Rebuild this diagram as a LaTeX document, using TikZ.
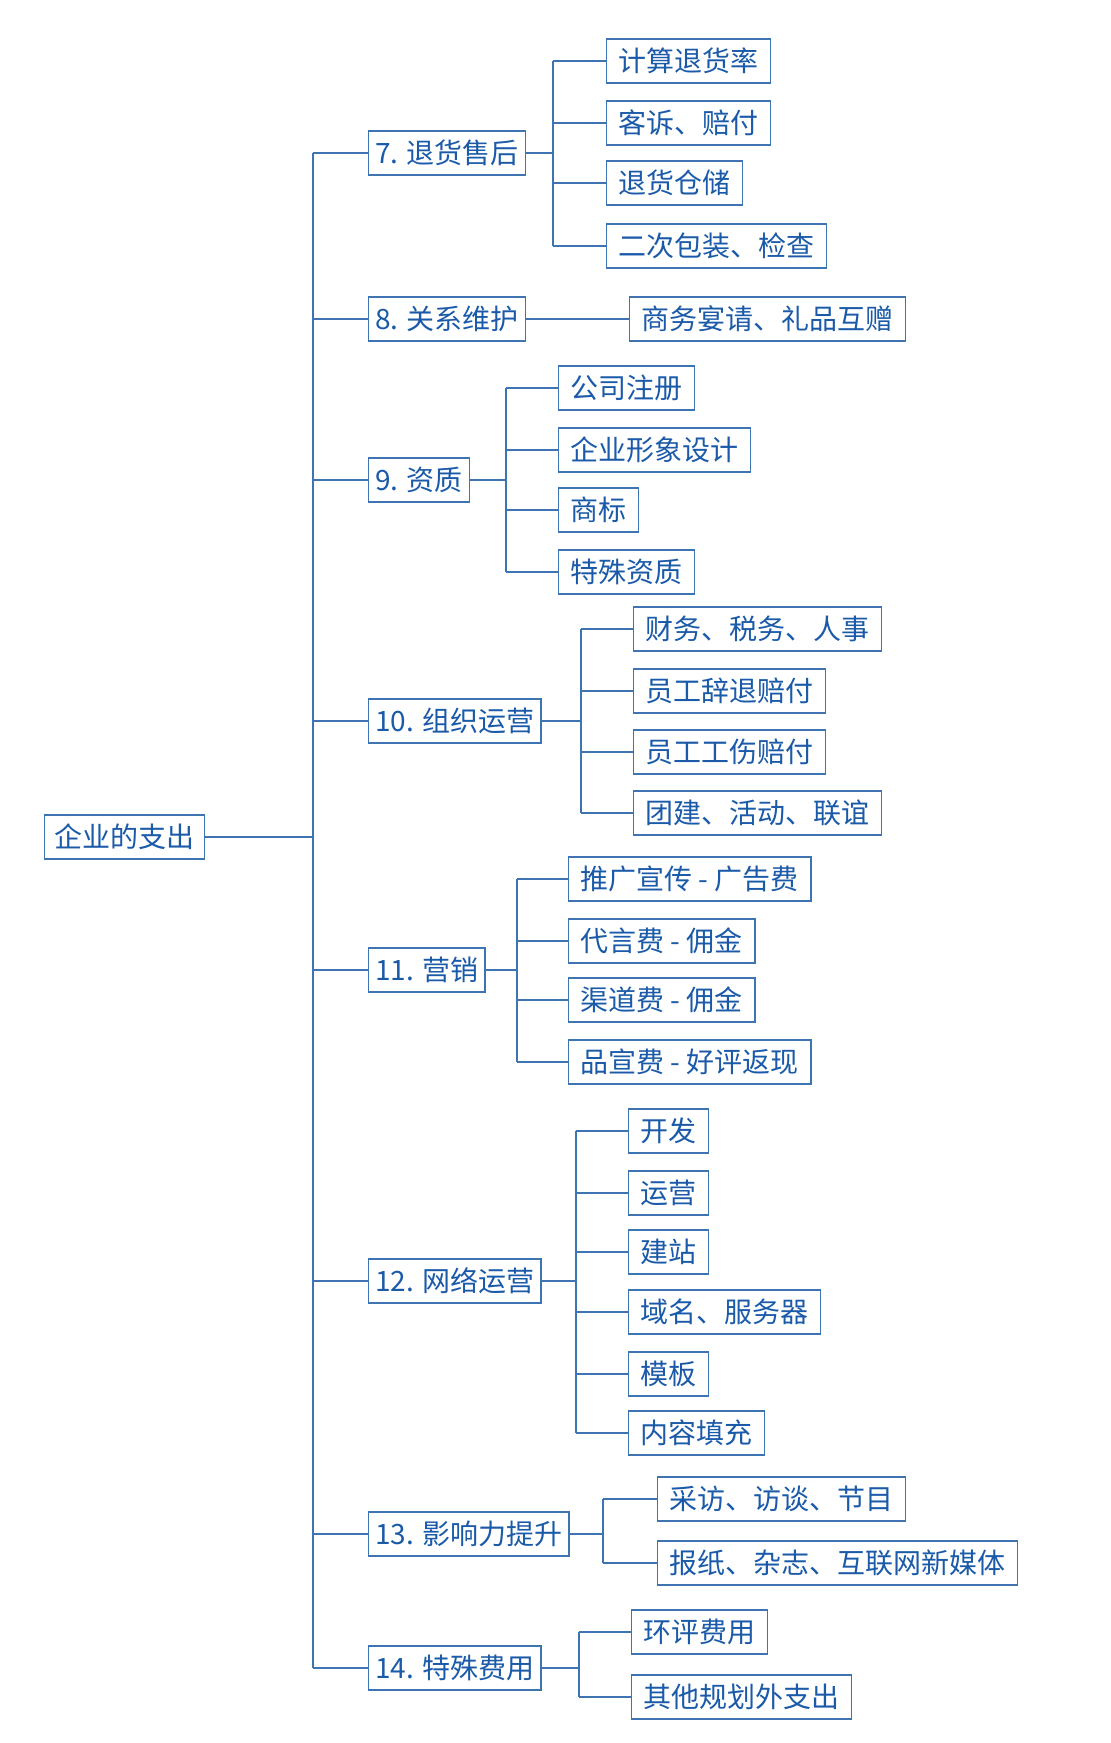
\documentclass[tikz,border=0pt]{standalone}
\usepackage{fontspec}
\setmainfont{Noto Sans CJK SC}
\definecolor{LineBlue}{HTML}{3F74B3}
\definecolor{TextBlue}{HTML}{1A5AA8}

\begin{document}
\begin{tikzpicture}[
  x=0.5pt, y=-0.5pt,
  item/.style={rectangle, draw=LineBlue, line width=0.7pt, anchor=west,
    minimum height=22pt, inner xsep=6pt, inner ysep=0pt,
    font=\fontsize{14}{16}\selectfont, text=TextBlue},
  head/.style={item, inner xsep=3.25pt},
  link/.style={draw=LineBlue, line width=0.7pt}
]
  \useasboundingbox (0,0) rectangle (1110,1743);

  % root and first level
  \node[item, inner xsep=5pt] (root) at (44,837) {企业的支出};
  \node[head] (l7) at (368,153) {7. 退货售后};
  \node[head] (l8) at (368,319) {8. 关系维护};
  \node[head] (l9) at (368,480) {9. 资质};
  \node[head] (l10) at (368,721) {10. 组织运营};
  \node[head] (l11) at (368,970) {11. 营销};
  \node[head] (l12) at (368,1281) {12. 网络运营};
  \node[head] (l13) at (368,1534) {13. 影响力提升};
  \node[head] (l14) at (368,1668) {14. 特殊费用};

  % second level
  \node[item] (c71) at (606,61) {计算退货率};
  \node[item] (c72) at (606,123) {客诉、赔付};
  \node[item] (c73) at (606,183) {退货仓储};
  \node[item] (c74) at (606,246) {二次包装、检查};
  \node[item] (c81) at (629,319) {商务宴请、礼品互赠};
  \node[item] (c91) at (558,388) {公司注册};
  \node[item] (c92) at (558,450) {企业形象设计};
  \node[item] (c93) at (558,510) {商标};
  \node[item] (c94) at (558,572) {特殊资质};
  \node[item] (c101) at (633,629) {财务、税务、人事};
  \node[item] (c102) at (633,691) {员工辞退赔付};
  \node[item] (c103) at (633,752) {员工工伤赔付};
  \node[item] (c104) at (633,813) {团建、活动、联谊};
  \node[item] (c111) at (568,879) {推广宣传 - 广告费};
  \node[item] (c112) at (568,941) {代言费 - 佣金};
  \node[item] (c113) at (568,1000) {渠道费 - 佣金};
  \node[item] (c114) at (568,1062) {品宣费 - 好评返现};
  \node[item] (c121) at (628,1131) {开发};
  \node[item] (c122) at (628,1193) {运营};
  \node[item] (c123) at (628,1252) {建站};
  \node[item] (c124) at (628,1312) {域名、服务器};
  \node[item] (c125) at (628,1374) {模板};
  \node[item] (c126) at (628,1433) {内容填充};
  \node[item] (c131) at (657,1499) {采访、访谈、节目};
  \node[item] (c132) at (657,1563) {报纸、杂志、互联网新媒体};
  \node[item] (c141) at (631,1632) {环评费用};
  \node[item] (c142) at (631,1697) {其他规划外支出};

  % trunk
  \coordinate (trunk) at (313,837);
  \draw[link] (root.east) -- (trunk);
  \draw[link] (trunk |- l7.west) -- (trunk |- l14.west);
  \foreach \n in {l7,l8,l9,l10,l11,l12,l13,l14}
    \draw[link] (trunk |- \n.west) -- (\n.west);

  % forks
  \coordinate (f7) at (553,0);
  \coordinate (f9) at (506,0);
  \coordinate (f10) at (581,0);
  \coordinate (f11) at (517,0);
  \coordinate (f12) at (576,0);
  \coordinate (f13) at (603,0);
  \coordinate (f14) at (579,0);
  \draw[link] (l8.east) -- (c81.west);
  \foreach \p/\f/\a/\b in {l7/f7/c71/c74, l9/f9/c91/c94, l10/f10/c101/c104,
      l11/f11/c111/c114, l12/f12/c121/c126, l13/f13/c131/c132, l14/f14/c141/c142} {
    \draw[link] (\p.east) -- (\f |- \p.east);
    \draw[link] (\f |- \a.west) -- (\f |- \b.west);
  }
  \foreach \f/\c in {f7/c71, f7/c72, f7/c73, f7/c74, f9/c91, f9/c92, f9/c93, f9/c94,
      f10/c101, f10/c102, f10/c103, f10/c104, f11/c111, f11/c112, f11/c113, f11/c114,
      f12/c121, f12/c122, f12/c123, f12/c124, f12/c125, f12/c126,
      f13/c131, f13/c132, f14/c141, f14/c142}
    \draw[link] (\f |- \c.west) -- (\c.west);
\end{tikzpicture}
\end{document}
